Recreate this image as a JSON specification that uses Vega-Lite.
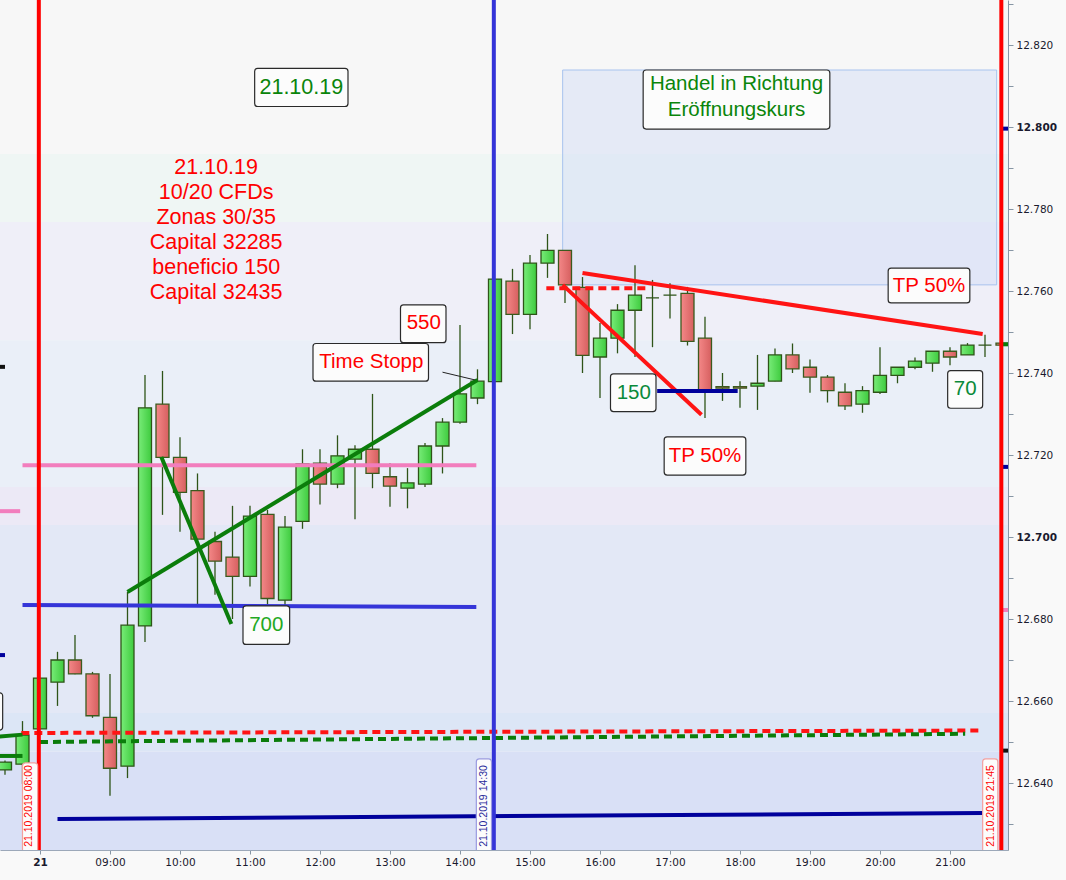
{
  "$schema": "https://vega.github.io/schema/vega-lite/v6.json",
  "width": 1008,
  "height": 850,
  "autosize": {"type": "none"},
  "padding": {"left": 0, "top": 0, "right": 58, "bottom": 30},
  "background": "#f9f9f9",
  "config": {
    "view": {"stroke": null},
    "axis": {"grid": false, "domainColor": "#8796a5", "tickColor": "#8796a5", "labelFont": "DejaVu Sans", "labelFontSize": 10.5, "labelColor": "#1a1a2e"},
    "text": {"font": "Liberation Sans"}
  },
  "datasets": {
    "bands": [
      {"lo": 12.7934, "hi": 12.831, "z": "a"},
      {"lo": 12.7768, "hi": 12.7934, "z": "b"},
      {"lo": 12.7480, "hi": 12.7768, "z": "c"},
      {"lo": 12.7122, "hi": 12.7480, "z": "d"},
      {"lo": 12.7029, "hi": 12.7122, "z": "e"},
      {"lo": 12.6571, "hi": 12.7029, "z": "f"},
      {"lo": 12.6476, "hi": 12.6571, "z": "g"},
      {"lo": 12.6236, "hi": 12.6476, "z": "h"}
    ],
    "candles": [
      {"t": "07:30", "o": 12.6432, "h": 12.6455, "l": 12.6420, "c": 12.6451},
      {"t": "07:45", "o": 12.6446, "h": 12.6551, "l": 12.6398, "c": 12.6517},
      {"t": "08:00", "o": 12.6532, "h": 12.6656, "l": 12.6532, "c": 12.6656},
      {"t": "08:15", "o": 12.6646, "h": 12.6720, "l": 12.6588, "c": 12.6700},
      {"t": "08:30", "o": 12.6700, "h": 12.6761, "l": 12.6665, "c": 12.6666},
      {"t": "08:45", "o": 12.6666, "h": 12.6671, "l": 12.6559, "c": 12.6564},
      {"t": "09:00", "o": 12.6560, "h": 12.6666, "l": 12.6369, "c": 12.6436},
      {"t": "09:15", "o": 12.6441, "h": 12.6866, "l": 12.6412, "c": 12.6785},
      {"t": "09:30", "o": 12.6783, "h": 12.7395, "l": 12.6744, "c": 12.7315},
      {"t": "09:45", "o": 12.7324, "h": 12.7405, "l": 12.7054, "c": 12.7194},
      {"t": "10:00", "o": 12.7194, "h": 12.7243, "l": 12.7013, "c": 12.7109},
      {"t": "10:15", "o": 12.7113, "h": 12.7155, "l": 12.6834, "c": 12.6995},
      {"t": "10:30", "o": 12.6989, "h": 12.7013, "l": 12.6859, "c": 12.6941},
      {"t": "10:45", "o": 12.6951, "h": 12.7076, "l": 12.6800, "c": 12.6904},
      {"t": "11:00", "o": 12.6904, "h": 12.7076, "l": 12.6879, "c": 12.7051},
      {"t": "11:15", "o": 12.7055, "h": 12.7066, "l": 12.6830, "c": 12.6850},
      {"t": "11:30", "o": 12.6846, "h": 12.7051, "l": 12.6830, "c": 12.7024},
      {"t": "11:45", "o": 12.7038, "h": 12.7214, "l": 12.7020, "c": 12.7178},
      {"t": "12:00", "o": 12.7180, "h": 12.7214, "l": 12.7079, "c": 12.7129},
      {"t": "12:15", "o": 12.7129, "h": 12.7248, "l": 12.7119, "c": 12.7198},
      {"t": "12:30", "o": 12.7190, "h": 12.7224, "l": 12.7043, "c": 12.7214},
      {"t": "12:45", "o": 12.7214, "h": 12.7349, "l": 12.7119, "c": 12.7155},
      {"t": "13:00", "o": 12.7147, "h": 12.7180, "l": 12.7074, "c": 12.7124},
      {"t": "13:15", "o": 12.7119, "h": 12.7168, "l": 12.7070, "c": 12.7132},
      {"t": "13:30", "o": 12.7129, "h": 12.7229, "l": 12.7122, "c": 12.7222},
      {"t": "13:45", "o": 12.7222, "h": 12.7290, "l": 12.7155, "c": 12.7280},
      {"t": "14:00", "o": 12.7280, "h": 12.7517, "l": 12.7276, "c": 12.7349},
      {"t": "14:15", "o": 12.7339, "h": 12.7409, "l": 12.7324, "c": 12.7380},
      {"t": "14:30", "o": 12.7379, "h": 12.7629, "l": 12.7379, "c": 12.7629},
      {"t": "14:45", "o": 12.7624, "h": 12.7654, "l": 12.7495, "c": 12.7543},
      {"t": "15:00", "o": 12.7543, "h": 12.7688, "l": 12.7507, "c": 12.7668},
      {"t": "15:15", "o": 12.7668, "h": 12.7739, "l": 12.7632, "c": 12.7699},
      {"t": "15:30", "o": 12.7699, "h": 12.7699, "l": 12.7571, "c": 12.7615},
      {"t": "15:45", "o": 12.7609, "h": 12.7634, "l": 12.7400, "c": 12.7443},
      {"t": "16:00", "o": 12.7439, "h": 12.7522, "l": 12.7339, "c": 12.7485},
      {"t": "16:15", "o": 12.7485, "h": 12.7568, "l": 12.7448, "c": 12.7553},
      {"t": "16:30", "o": 12.7553, "h": 12.7663, "l": 12.7439, "c": 12.7590},
      {"t": "16:45", "o": 12.7583, "h": 12.7627, "l": 12.7463, "c": 12.7583},
      {"t": "17:00", "o": 12.7590, "h": 12.7619, "l": 12.7533, "c": 12.7590},
      {"t": "17:15", "o": 12.7594, "h": 12.7610, "l": 12.7467, "c": 12.7477},
      {"t": "17:30", "o": 12.7485, "h": 12.7537, "l": 12.7290, "c": 12.7356},
      {"t": "17:45", "o": 12.7367, "h": 12.7400, "l": 12.7332, "c": 12.7363},
      {"t": "18:00", "o": 12.7367, "h": 12.7380, "l": 12.7315, "c": 12.7363},
      {"t": "18:15", "o": 12.7368, "h": 12.7444, "l": 12.7310, "c": 12.7375},
      {"t": "18:30", "o": 12.7380, "h": 12.7460, "l": 12.7380, "c": 12.7444},
      {"t": "18:45", "o": 12.7444, "h": 12.7472, "l": 12.7400, "c": 12.7410},
      {"t": "19:00", "o": 12.7414, "h": 12.7433, "l": 12.7352, "c": 12.7390},
      {"t": "19:15", "o": 12.7390, "h": 12.7395, "l": 12.7328, "c": 12.7357},
      {"t": "19:30", "o": 12.7353, "h": 12.7375, "l": 12.7310, "c": 12.7320},
      {"t": "19:45", "o": 12.7324, "h": 12.7368, "l": 12.7303, "c": 12.7357},
      {"t": "20:00", "o": 12.7353, "h": 12.7463, "l": 12.7349, "c": 12.7394},
      {"t": "20:15", "o": 12.7394, "h": 12.7414, "l": 12.7375, "c": 12.7414},
      {"t": "20:30", "o": 12.7414, "h": 12.7438, "l": 12.7409, "c": 12.7429},
      {"t": "20:45", "o": 12.7424, "h": 12.7453, "l": 12.7403, "c": 12.7453},
      {"t": "21:00", "o": 12.7453, "h": 12.7463, "l": 12.7419, "c": 12.7439},
      {"t": "21:15", "o": 12.7444, "h": 12.7473, "l": 12.7444, "c": 12.7468},
      {"t": "21:30", "o": 12.7468, "h": 12.7493, "l": 12.7439, "c": 12.7468},
      {"t": "21:45", "o": 12.7473, "h": 12.7473, "l": 12.7468, "c": 12.7468}
    ],
    "segs": [
      {"t": "07:45", "p": 12.7175, "t2": "14:14", "p2": 12.7175, "k": "pink"},
      {"t": "07:45", "p": 12.6834, "t2": "14:14", "p2": 12.6829, "k": "blue"},
      {"t": "08:15", "p": 12.6312, "t2": "21:28", "p2": 12.6327, "k": "navy"},
      {"t": "09:15", "p": 12.6866, "t2": "14:15", "p2": 12.7383, "k": "green"},
      {"t": "09:44", "p": 12.7195, "t2": "10:44", "p2": 12.6788, "k": "green"},
      {"t": "15:28", "p": 12.7615, "t2": "17:27", "p2": 12.7298, "k": "red"},
      {"t": "15:45", "p": 12.7644, "t2": "21:28", "p2": 12.7495, "k": "red"},
      {"t": "16:49", "p": 12.7356, "t2": "17:58", "p2": 12.7356, "k": "navy"},
      {"t": "07:20", "p": 12.6512, "t2": "07:45", "p2": 12.6518, "k": "green"},
      {"t": "07:20", "p": 12.6466, "t2": "07:45", "p2": 12.6466, "k": "green"},
      {"t": "07:20", "p": 12.7063, "t2": "07:43", "p2": 12.7063, "k": "pink"},
      {"t": "07:20", "p": 12.6712, "t2": "07:30", "p2": 12.6712, "k": "navy"},
      {"t": "07:20", "p": 12.7415, "t2": "07:30", "p2": 12.7415, "k": "ink"},
      {"t": "21:45", "p": 12.7996, "t2": "21:50", "p2": 12.7996, "k": "navy"},
      {"t": "21:45", "p": 12.7470, "t2": "21:50", "p2": 12.7470, "k": "green"},
      {"t": "21:45", "p": 12.7171, "t2": "21:50", "p2": 12.7171, "k": "navy"},
      {"t": "21:45", "p": 12.6822, "t2": "21:50", "p2": 12.6822, "k": "pink"},
      {"t": "21:45", "p": 12.6479, "t2": "21:50", "p2": 12.6479, "k": "ink"}
    ],
    "dashed": [
      {"t": "07:44", "p": 12.6522, "t2": "21:26", "p2": 12.6528, "k": "red"},
      {"t": "08:00", "p": 12.6500, "t2": "21:13", "p2": 12.6520, "k": "green"},
      {"t": "15:14", "p": 12.7607, "t2": "16:43", "p2": 12.7607, "k": "red"}
    ],
    "vlines": [
      {"t": "07:59", "k": "red"},
      {"t": "14:29", "k": "blue"},
      {"t": "21:44", "k": "red"}
    ],
    "boxes": [
      {"t": "11:04", "t2": "12:24", "p": 12.8050, "p2": 12.8143, "k": "dark"},
      {"t": "13:09", "t2": "13:48", "p": 12.7474, "p2": 12.7566, "k": "dark"},
      {"t": "11:54", "t2": "13:33", "p": 12.7380, "p2": 12.7472, "k": "dark"},
      {"t": "10:54", "t2": "11:34", "p": 12.6738, "p2": 12.6832, "k": "dark"},
      {"t": "16:37", "t2": "19:17", "p": 12.7995, "p2": 12.8139, "k": "dark"},
      {"t": "20:07", "t2": "21:17", "p": 12.7571, "p2": 12.7656, "k": "dark"},
      {"t": "16:09", "t2": "16:48", "p": 12.7306, "p2": 12.7398, "k": "dark"},
      {"t": "16:55", "t2": "18:05", "p": 12.7151, "p2": 12.7244, "k": "dark"},
      {"t": "20:58", "t2": "21:28", "p": 12.7314, "p2": 12.7406, "k": "dark"},
      {"t": "07:15", "t2": "07:28", "p": 12.6529, "p2": 12.6620, "k": "dark"},
      {"t": "07:45", "t2": "07:58", "p": 12.6230, "p2": 12.6449, "k": "pinkb"},
      {"t": "14:14", "t2": "14:27", "p": 12.6230, "p2": 12.6459, "k": "blueb"},
      {"t": "21:28", "t2": "21:41", "p": 12.6230, "p2": 12.6459, "k": "pinkb"}
    ],
    "labels": [
      {"t": "13:29", "p": 12.7522, "s": "550", "k": "red"},
      {"t": "12:44", "p": 12.7427, "s": "Time Stopp", "k": "red"},
      {"t": "11:14", "p": 12.6785, "s": "700", "k": "lime"},
      {"t": "20:42", "p": 12.7613, "s": "TP 50%", "k": "red"},
      {"t": "16:29", "p": 12.7352, "s": "150", "k": "teal"},
      {"t": "17:30", "p": 12.7198, "s": "TP 50%", "k": "red"},
      {"t": "21:13", "p": 12.7360, "s": "70", "k": "teal"},
      {"t": "17:57", "p": 12.8105, "s": "Handel in Richtung", "k": "green"},
      {"t": "17:57", "p": 12.8041, "s": "Eröffnungskurs", "k": "green"}
    ],
    "block": [
      {"t": "11:44", "p": 12.8096, "s": "21.10.19", "k": "green"},
      {"t": "10:31", "p": 12.7900, "s": "21.10.19", "k": "red"},
      {"t": "10:31", "p": 12.7839, "s": "10/20 CFDs", "k": "red"},
      {"t": "10:31", "p": 12.7778, "s": " Zonas 30/35", "k": "red"},
      {"t": "10:31", "p": 12.7717, "s": "Capital 32285", "k": "red"},
      {"t": "10:31", "p": 12.7656, "s": "beneficio 150", "k": "red"},
      {"t": "10:31", "p": 12.7595, "s": "Capital 32435", "k": "red"}
    ],
    "vtext": [
      {"t": "07:51", "p": 12.6344, "s": "21.10.2019 08:00", "k": "red"},
      {"t": "14:21", "p": 12.6344, "s": "21.10.2019 14:30", "k": "navy"},
      {"t": "21:35", "p": 12.6344, "s": "21.10.2019 21:45", "k": "red"}
    ]
  },
  "resolve": {"scale": {"color": "independent"}, "axis": {"x": "independent", "y": "independent"}},
  "layer": [
    {
      "data": {"name": "bands"},
      "mark": {"type": "rect"},
      "encoding": {
        "y": {"field": "lo", "type": "quantitative", "axis": null},
        "y2": {"field": "hi"},
        "color": {"field": "z", "type": "nominal", "legend": null,
          "scale": {"domain": ["a", "b", "c", "d", "e", "f", "g", "h"],
            "range": ["#f7f7f7", "#eff6f4", "#efeff8", "#eaeff8", "#ece9f6", "#e3e8f6", "#dce6f6", "#d9e0f6"]}}
      }
    },
    {
      "data": {"values": [{"t": "15:28", "t2": "21:40", "p": 12.8139, "p2": 12.7615}], "format": {"parse": {"t": "date:'%H:%M'", "t2": "date:'%H:%M'"}}},
      "mark": {"type": "rect", "fill": "#d3def5", "fillOpacity": 0.5, "stroke": "#a8c3ee", "strokeWidth": 1},
      "encoding": {
        "x": {"field": "t", "type": "temporal", "axis": null},
        "x2": {"field": "t2"},
        "y": {"field": "p", "type": "quantitative", "axis": null},
        "y2": {"field": "p2"}
      }
    },
    {
      "data": {"name": "candles", "format": {"parse": {"t": "date:'%H:%M'"}}},
      "resolve": {"axis": {"x": "independent", "y": "independent"}},
      "layer": [
        {
          "mark": {"type": "rule", "color": "#2e5418", "strokeWidth": 1.3, "clip": true},
          "encoding": {
            "x": {"field": "t", "type": "temporal", "title": null,
              "scale": {"padding": 0, "domain": [
                {"year": 1900, "month": 1, "date": 1, "hours": 7, "minutes": 25, "seconds": 43},
                {"year": 1900, "month": 1, "date": 1, "hours": 21, "minutes": 49, "seconds": 43}]},
              "axis": {"format": "%H:%M", "labelOverlap": false, "labelFlush": false, "tickSize": 4, "labelPadding": 3,
                "labelExpr": "hours(datum.value) == 8 ? '21' : timeFormat(datum.value, '%H:%M')",
                "labelFontWeight": {"condition": {"test": "hours(datum.value) == 8", "value": "bold"}, "value": "normal"},
                "values": [
                  {"year": 1900, "month": 1, "date": 1, "hours": 8},
                  {"year": 1900, "month": 1, "date": 1, "hours": 9},
                  {"year": 1900, "month": 1, "date": 1, "hours": 10},
                  {"year": 1900, "month": 1, "date": 1, "hours": 11},
                  {"year": 1900, "month": 1, "date": 1, "hours": 12},
                  {"year": 1900, "month": 1, "date": 1, "hours": 13},
                  {"year": 1900, "month": 1, "date": 1, "hours": 14},
                  {"year": 1900, "month": 1, "date": 1, "hours": 15},
                  {"year": 1900, "month": 1, "date": 1, "hours": 16},
                  {"year": 1900, "month": 1, "date": 1, "hours": 17},
                  {"year": 1900, "month": 1, "date": 1, "hours": 18},
                  {"year": 1900, "month": 1, "date": 1, "hours": 19},
                  {"year": 1900, "month": 1, "date": 1, "hours": 20},
                  {"year": 1900, "month": 1, "date": 1, "hours": 21}]}},
            "y": {"field": "l", "type": "quantitative", "title": null,
              "scale": {"domain": [12.623659, 12.830976], "nice": false, "zero": false},
              "axis": {"orient": "right", "values": [12.63, 12.64, 12.65, 12.66, 12.67, 12.68, 12.69, 12.7, 12.71, 12.72, 12.73, 12.74, 12.75, 12.76, 12.77, 12.78, 12.79, 12.8, 12.81, 12.82, 12.83],
                "labelOverlap": false, "tickSize": 5, "labelPadding": 3,
                "labelExpr": "round(datum.value * 1000) % 20 == 0 ? format(datum.value, '.3f') : ''",
                "labelFontWeight": {"condition": {"test": "round(datum.value * 1000) % 100 == 0", "value": "bold"}, "value": "normal"}}},
            "y2": {"field": "h"}
          }
        },
        {
          "transform": [{"filter": "datum.c >= datum.o"}],
          "mark": {"type": "bar", "size": 13, "clip": true, "stroke": "#2e5418", "strokeWidth": 1.3,
            "fill": {"gradient": "linear", "x1": 0, "y1": 0, "x2": 1, "y2": 0, "stops": [{"offset": 0, "color": "#78ec78"}, {"offset": 1, "color": "#3ecb3e"}]}},
          "encoding": {
            "x": {"field": "t", "type": "temporal", "axis": null},
            "y": {"field": "o", "type": "quantitative", "axis": null},
            "y2": {"field": "c"}
          }
        },
        {
          "transform": [{"filter": "datum.c < datum.o"}],
          "mark": {"type": "bar", "size": 13, "clip": true, "stroke": "#3b5a1e", "strokeWidth": 1.3,
            "fill": {"gradient": "linear", "x1": 0, "y1": 0, "x2": 1, "y2": 0, "stops": [{"offset": 0, "color": "#f48888"}, {"offset": 1, "color": "#d65f5f"}]}},
          "encoding": {
            "x": {"field": "t", "type": "temporal", "axis": null},
            "y": {"field": "o", "type": "quantitative", "axis": null},
            "y2": {"field": "c"}
          }
        }
      ]
    },
    {
      "data": {"name": "dashed", "format": {"parse": {"t": "date:'%H:%M'", "t2": "date:'%H:%M'"}}},
      "mark": {"type": "rule", "strokeWidth": 4, "strokeDash": [8, 5], "clip": true},
      "encoding": {
        "x": {"field": "t", "type": "temporal", "axis": null},
        "x2": {"field": "t2"},
        "y": {"field": "p", "type": "quantitative", "axis": null},
        "y2": {"field": "p2"},
        "color": {"field": "k", "type": "nominal", "legend": null, "scale": {"domain": ["red", "green"], "range": ["#ff1414", "#0b7d0b"]}}
      }
    },
    {
      "data": {"name": "segs", "format": {"parse": {"t": "date:'%H:%M'", "t2": "date:'%H:%M'"}}},
      "mark": {"type": "rule", "clip": true, "strokeWidth": 4},
      "encoding": {
        "x": {"field": "t", "type": "temporal", "axis": null},
        "x2": {"field": "t2"},
        "y": {"field": "p", "type": "quantitative", "axis": null},
        "y2": {"field": "p2"},
        "color": {"field": "k", "type": "nominal", "legend": null,
          "scale": {"domain": ["pink", "blue", "navy", "green", "red", "ink"], "range": ["#f27dbd", "#3535d8", "#00009c", "#0b7d0b", "#ff1414", "#111111"]}}
      }
    },
    {
      "data": {"values": [{"t": "13:45", "p": 12.7402, "t2": "14:13", "p2": 12.7383}], "format": {"parse": {"t": "date:'%H:%M'", "t2": "date:'%H:%M'"}}},
      "mark": {"type": "rule", "strokeWidth": 1, "color": "#222222"},
      "encoding": {
        "x": {"field": "t", "type": "temporal", "axis": null},
        "x2": {"field": "t2"},
        "y": {"field": "p", "type": "quantitative", "axis": null},
        "y2": {"field": "p2"}
      }
    },
    {
      "data": {"name": "vlines", "format": {"parse": {"t": "date:'%H:%M'"}}},
      "mark": {"type": "rule", "strokeWidth": 4},
      "encoding": {
        "x": {"field": "t", "type": "temporal", "axis": null},
        "color": {"field": "k", "type": "nominal", "legend": null, "scale": {"domain": ["red", "blue"], "range": ["#ff0000", "#3434d8"]}}
      }
    },
    {
      "data": {"name": "boxes", "format": {"parse": {"t": "date:'%H:%M'", "t2": "date:'%H:%M'"}}},
      "mark": {"type": "rect", "fill": "#fcfcfc", "strokeWidth": 1.2, "cornerRadius": 3, "clip": true},
      "encoding": {
        "x": {"field": "t", "type": "temporal", "axis": null},
        "x2": {"field": "t2"},
        "y": {"field": "p", "type": "quantitative", "axis": null},
        "y2": {"field": "p2"},
        "stroke": {"field": "k", "type": "nominal", "legend": null, "scale": {"domain": ["dark", "pinkb", "blueb"], "range": ["#2a2a2a", "#f2a0a0", "#9a9ae0"]}}
      }
    },
    {
      "data": {"name": "labels", "format": {"parse": {"t": "date:'%H:%M'"}}},
      "mark": {"type": "text", "fontSize": 20.5, "align": "center", "baseline": "middle"},
      "encoding": {
        "x": {"field": "t", "type": "temporal", "axis": null},
        "y": {"field": "p", "type": "quantitative", "axis": null},
        "text": {"field": "s", "type": "nominal"},
        "color": {"field": "k", "type": "nominal", "legend": null, "scale": {"domain": ["red", "green", "lime", "teal"], "range": ["#ff0000", "#0a850a", "#22a822", "#0a8a3a"]}}
      }
    },
    {
      "data": {"name": "block", "format": {"parse": {"t": "date:'%H:%M'"}}},
      "mark": {"type": "text", "fontSize": 21.5, "align": "center", "baseline": "middle"},
      "encoding": {
        "x": {"field": "t", "type": "temporal", "axis": null},
        "y": {"field": "p", "type": "quantitative", "axis": null},
        "text": {"field": "s", "type": "nominal"},
        "color": {"field": "k", "type": "nominal", "legend": null, "scale": {"domain": ["red", "green"], "range": ["#ff0000", "#0a850a"]}}
      }
    },
    {
      "data": {"name": "vtext", "format": {"parse": {"t": "date:'%H:%M'"}}},
      "mark": {"type": "text", "fontSize": 10.5, "angle": 270, "align": "center", "baseline": "middle"},
      "encoding": {
        "x": {"field": "t", "type": "temporal", "axis": null},
        "y": {"field": "p", "type": "quantitative", "axis": null},
        "text": {"field": "s", "type": "nominal"},
        "color": {"field": "k", "type": "nominal", "legend": null, "scale": {"domain": ["red", "navy"], "range": ["#ff0000", "#2a2a9a"]}}
      }
    }
  ]
}
